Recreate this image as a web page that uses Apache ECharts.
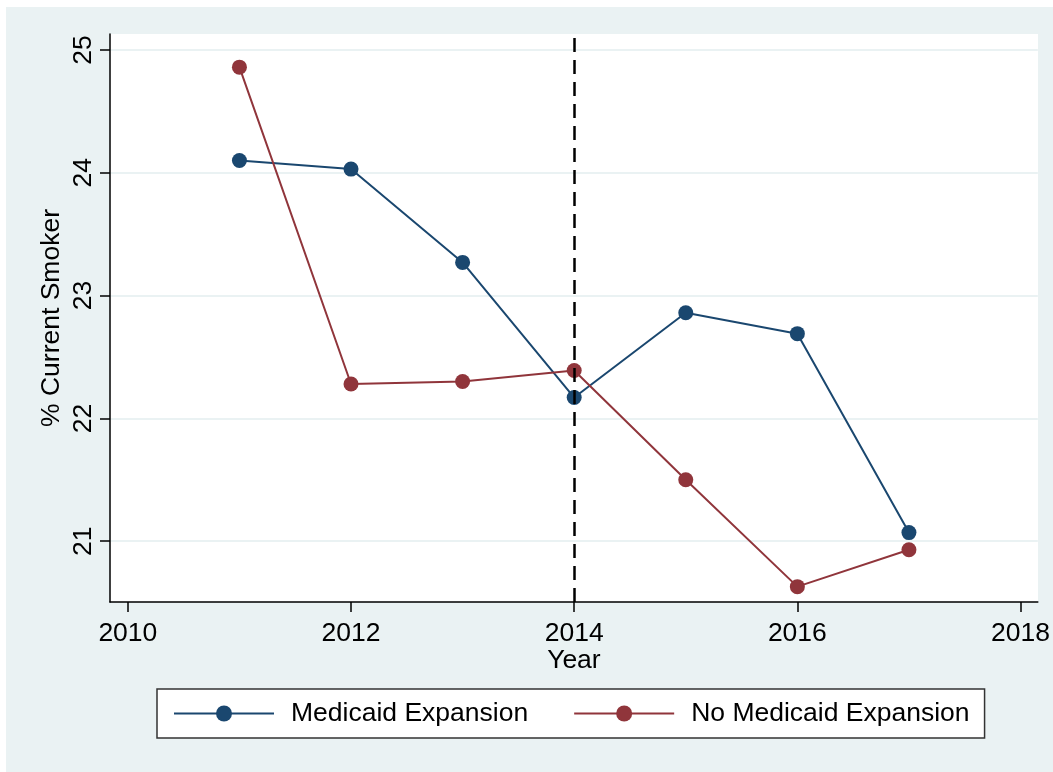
<!DOCTYPE html>
<html>
<head>
<meta charset="utf-8">
<script src="https://cdn.jsdelivr.net/npm/echarts@6/dist/echarts.min.js"></script>
<style>
  html, body { margin: 0; padding: 0; background: #ffffff; }
  #chart { width: 1053px; height: 772px; }
</style>
</head>
<body>
<div id="chart"></div>
<script>
// data
var years = [2011, 2012, 2013, 2014, 2015, 2016, 2017];
var medicaidExpansion = [24.10, 24.03, 23.27, 22.17, 22.86, 22.69, 21.07];
var noMedicaidExpansion = [24.86, 22.28, 22.30, 22.39, 21.50, 20.63, 20.93];
var xTicks = [2010, 2012, 2014, 2016, 2018];
var yTicks = [21, 22, 23, 24, 25];
var policyYear = 2014;

var font = '"Liberation Sans", Arial, sans-serif';
var chart = echarts.init(document.getElementById("chart"));

function pairs(values) {
  return years.map(function (y, i) { return [y, values[i]]; });
}

var option = {
  animation: false,
  backgroundColor: "#ffffff",
  graphic: [
    {
      type: "rect",
      z: -10,
      shape: { x: 6, y: 7, width: 1047, height: 765 },
      style: { fill: "#eaf2f3" },
    },
    {
      type: "rect",
      z: -9,
      shape: { x: 110, y: 34, width: 928, height: 568 },
      style: { fill: "#ffffff" },
    },
  ],
  grid: { left: 110, top: 34, right: 15, bottom: 170 },
  xAxis: {
    type: "value",
    min: 2009.84,
    max: 2018.155,
    name: "Year",
    nameLocation: "middle",
    nameGap: 45,
    nameMoveOverlap: false,
    nameTextStyle: { fontFamily: font, fontSize: 26.5, color: "#000" },
    axisLine: { onZero: false, lineStyle: { color: "#000", width: 1.5 } },
    axisTick: { show: true, length: 10, customValues: xTicks, lineStyle: { color: "#000", width: 1.5 } },
    axisLabel: {
      customValues: xTicks,
      margin: 18,
      fontFamily: font,
      fontSize: 26.5,
      color: "#000",
      formatter: function (v) { return String(v); },
    },
    splitLine: { show: false },
  },
  yAxis: {
    type: "value",
    min: 20.505,
    max: 25.13,
    name: "% Current Smoker",
    nameLocation: "middle",
    nameRotate: 90,
    nameGap: 45,
    nameMoveOverlap: false,
    nameTextStyle: { fontFamily: font, fontSize: 26.5, color: "#000" },
    axisLine: { show: true, onZero: false, lineStyle: { color: "#000", width: 1.5 } },
    axisTick: { show: true, length: 10, customValues: yTicks, lineStyle: { color: "#000", width: 1.5 } },
    axisLabel: {
      customValues: yTicks,
      rotate: 90,
      margin: 13,
      fontFamily: font,
      fontSize: 26.5,
      color: "#000",
    },
    splitLine: { show: true, lineStyle: { color: "#eaf2f3", width: 2 } },
  },
  legend: {
    left: 157,
    top: 689,
    orient: "horizontal",
    itemWidth: 100,
    itemHeight: 20,
    itemGap: 45,
    padding: [11, 15, 11, 16],
    backgroundColor: "#ffffff",
    borderColor: "#333",
    borderWidth: 1.5,
    borderRadius: 0,
    textStyle: { fontFamily: font, fontSize: 26.5, color: "#000", padding: [0, 0, 0, 12] },
    data: ["Medicaid Expansion", "No Medicaid Expansion"],
  },
  series: [
    {
      name: "Medicaid Expansion",
      type: "line",
      data: pairs(medicaidExpansion),
      symbol: "circle",
      symbolSize: 15,
      color: "#1a476f",
      lineStyle: { width: 2, color: "#1a476f" },
      itemStyle: { color: "#1a476f" },
      z: 3,
      markLine: {
        silent: true,
        symbol: "none",
        label: { show: false },
        lineStyle: { color: "#000", width: 2.5, type: [14, 8] },
        data: [{ xAxis: policyYear }],
      },
    },
    {
      name: "No Medicaid Expansion",
      type: "line",
      data: pairs(noMedicaidExpansion),
      symbol: "circle",
      symbolSize: 15,
      color: "#90353b",
      lineStyle: { width: 2, color: "#90353b" },
      itemStyle: { color: "#90353b" },
      z: 3,
    },
  ],
};

chart.setOption(option);
</script>
</body>
</html>
